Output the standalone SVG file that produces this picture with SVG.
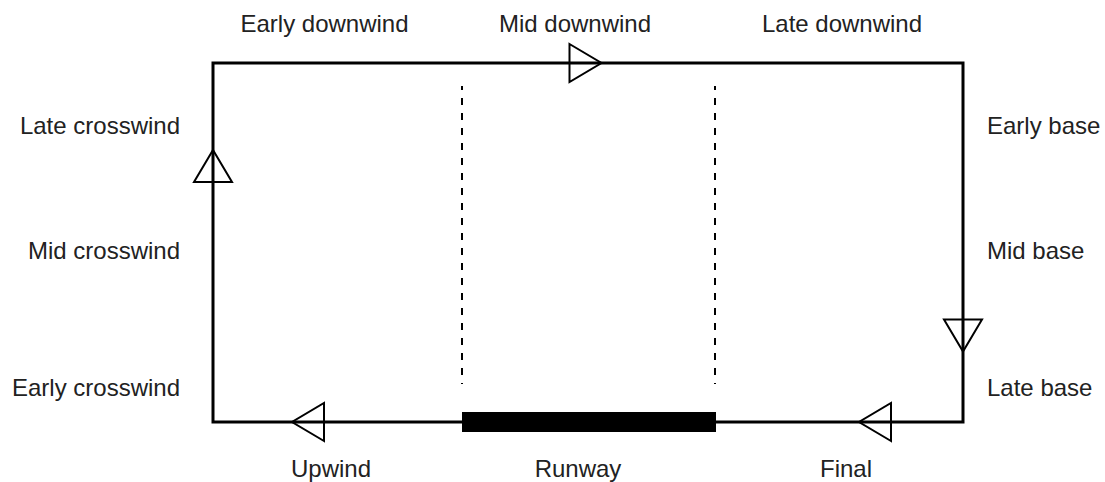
<svg xmlns="http://www.w3.org/2000/svg" width="1105" height="482" viewBox="0 0 1105 482">
<style>
.lbl{font-family:"Liberation Sans",Arial,Helvetica,sans-serif;font-size:24px;fill:#222}
.mid{text-anchor:middle}
.end{text-anchor:end}
.path{fill:none;stroke:#000;stroke-width:3;stroke-linejoin:miter}
.dash{stroke:#000;stroke-width:2;stroke-dasharray:7 8;stroke-dashoffset:3}
.arr{fill:none;stroke:#000;stroke-width:2;stroke-linejoin:miter}
</style>
<defs>
<path id="arrow" d="M0,-19 L32,0 L0,19 Z"/>
</defs>
<rect width="1105" height="482" fill="#fff"/>
<g id="connectors">
<path id="circuit" class="path" d="M213,63 H963 V422 H213 Z"/>
<line id="dash-left" class="dash" x1="462" y1="86" x2="462" y2="384"/>
<line id="dash-right" class="dash" x1="715" y1="86" x2="715" y2="384"/>
<use class="arr" href="#arrow" transform="translate(569.5,63)"/>
<use class="arr" href="#arrow" transform="translate(213,182) rotate(-90)"/>
<use class="arr" href="#arrow" transform="translate(963,319.5) rotate(90)"/>
<use class="arr" href="#arrow" transform="translate(891,422) rotate(180)"/>
<use class="arr" href="#arrow" transform="translate(324,422) rotate(180)"/>
</g>
<g id="runway">
<rect x="462" y="412" width="254" height="20" fill="#000"/>
<text class="lbl mid" x="578" y="477">Runway</text>
</g>
<g id="early-downwind"><text class="lbl mid" x="324.5" y="32">Early downwind</text></g>
<g id="mid-downwind"><text class="lbl mid" x="575" y="32">Mid downwind</text></g>
<g id="late-downwind"><text class="lbl mid" x="842" y="32">Late downwind</text></g>
<g id="late-crosswind"><text class="lbl end" x="180" y="134">Late crosswind</text></g>
<g id="mid-crosswind"><text class="lbl end" x="180" y="259">Mid crosswind</text></g>
<g id="early-crosswind"><text class="lbl end" x="180" y="396">Early crosswind</text></g>
<g id="early-base"><text class="lbl" x="987" y="134">Early base</text></g>
<g id="mid-base"><text class="lbl" x="987" y="259">Mid base</text></g>
<g id="late-base"><text class="lbl" x="987" y="396">Late base</text></g>
<g id="upwind"><text class="lbl mid" x="331" y="477">Upwind</text></g>
<g id="final"><text class="lbl mid" x="846" y="477">Final</text></g>
</svg>
